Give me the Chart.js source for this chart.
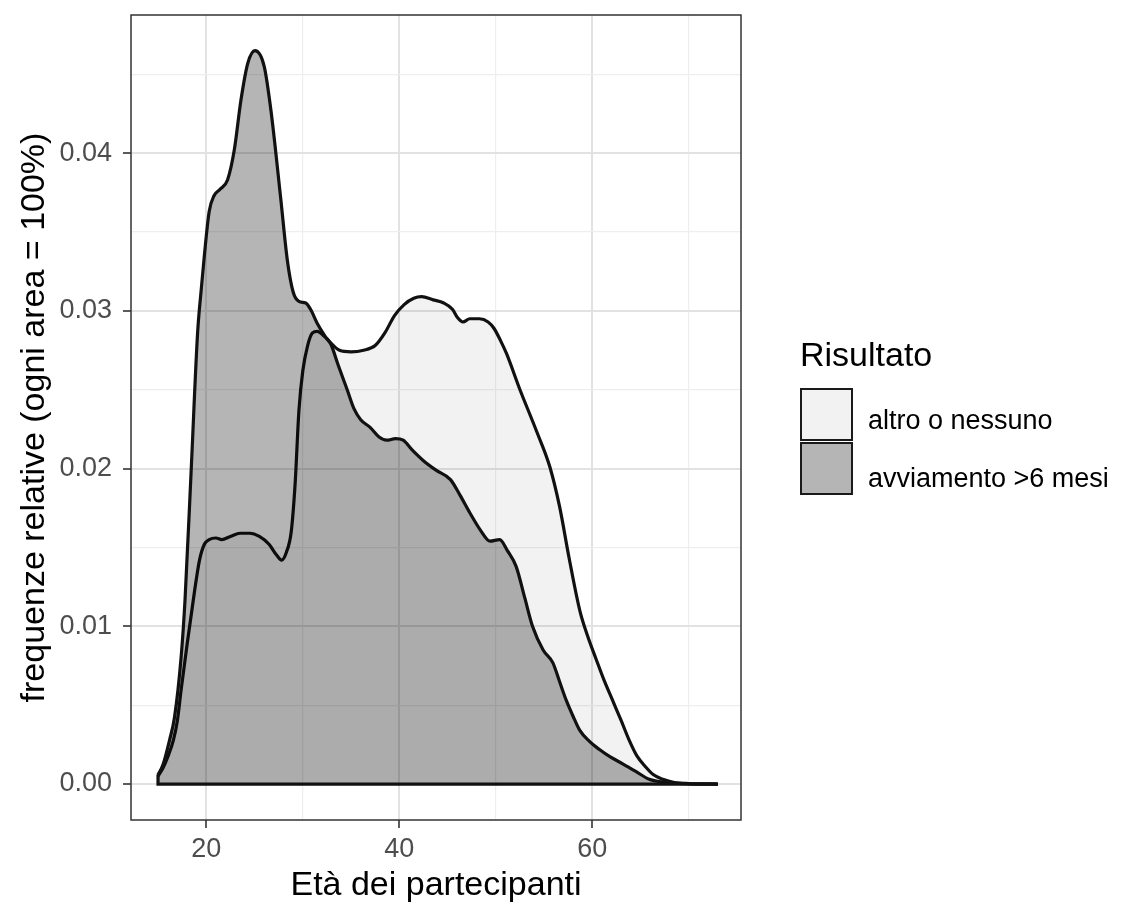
<!DOCTYPE html>
<html><head><meta charset="utf-8">
<script src="https://cdn.jsdelivr.net/npm/chart.js@4/dist/chart.umd.min.js"></script>
<style>
html,body{margin:0;padding:0;background:#fff;}
#wrap{position:relative;width:1129px;height:906px;font-family:"Liberation Sans",Arial,Helvetica,sans-serif;}
#c{position:absolute;left:0;top:0;}
.ltitle{position:absolute;left:800px;top:337px;font-size:34px;line-height:34px;color:#000;white-space:nowrap;}
.key{position:absolute;left:800px;width:53px;height:53px;box-sizing:border-box;border:2.5px solid #1a1a1a;}
.lab{position:absolute;left:868px;font-size:27px;line-height:27px;color:#000;white-space:nowrap;}
</style></head>
<body>
<div id="wrap">
  <canvas id="c" width="1129" height="906"></canvas>
  <div class="ltitle" id="legTitle"></div>
  <div class="key" style="top:388px;background:#f2f2f2;"></div>
  <div class="key" style="top:442px;background:#b5b5b5;"></div>
  <div class="lab" id="lab0" style="top:407px;"></div>
  <div class="lab" id="lab1" style="top:465px;"></div>
</div>
<script>
// ---- data ----
const seriesNames = ['altro o nessuno', 'avviamento >6 mesi'];
const legendTitle = 'Risultato';
const xTitle = 'Età dei partecipanti';
const yTitle = 'frequenze relative (ogni area = 100%)';

const ageAltro = [15, 15.5, 16, 16.6, 17, 17.4, 18, 18.8, 19.3, 19.8,
  20.3, 21, 21.6, 22.5, 23.5, 24.5, 25.5, 26.5, 27.3, 27.8,
  28.3, 28.8, 29.2, 29.6, 30, 30.5, 31, 31.5, 32.2, 33,
  33.8, 35, 36.3, 37.5, 38.5, 39.5, 40.5, 41.5, 42.3, 43.5,
  44.6, 45.5, 46, 46.6, 47.3, 48.3, 49.2, 49.8, 50.5, 51.1,
  52.5, 54.2, 55.6, 56.6, 57.6, 58.7, 59.5, 60.4, 61.2, 62.1,
  63, 63.8, 64.6, 65.5, 66.3, 67.3, 68.5, 70, 73];
const densAltro = [0.0005, 0.001, 0.0017, 0.0028, 0.004, 0.006, 0.0088, 0.0123, 0.0142, 0.0152,
  0.0155, 0.0156, 0.0155, 0.0157, 0.0159, 0.0159, 0.0157, 0.0152, 0.0145, 0.0142,
  0.0147, 0.016, 0.019, 0.0237, 0.0262, 0.0278, 0.0286, 0.0287, 0.0284, 0.0279,
  0.0275, 0.0274, 0.0275, 0.0278, 0.0286, 0.0297, 0.0304, 0.0308, 0.0309, 0.0307,
  0.0305, 0.0301, 0.0296, 0.0293, 0.0295, 0.0295, 0.0293, 0.0289, 0.0281, 0.0273,
  0.025, 0.0224, 0.0201, 0.0176, 0.0143, 0.011, 0.0094, 0.0079, 0.0066, 0.0053,
  0.004, 0.0028, 0.0018, 0.0011, 0.0006, 0.0003, 0.0001, 0.00003, 0];

const ageAvv = [15, 15.5, 16.2, 16.7, 17.4, 17.8, 18.45, 19.1, 19.5, 19.8,
  20.3, 20.8, 21.4, 22.2, 22.9, 23.6, 24.3, 25.05, 26.0, 26.7,
  27.7, 28.4, 29.0, 29.6, 30.3, 30.8, 31.5, 32.3, 32.9, 33.7,
  34.6, 35.3, 36.0, 37.0, 37.9, 38.7, 39.6, 40.4, 41.3, 42.5,
  43.8, 45.3, 46.3, 47.3, 48.4, 49.4, 50.4, 51.2, 52.1, 53.0,
  53.8, 54.9, 55.9, 56.6, 57.3, 58.0, 58.7, 59.7, 60.7, 61.9,
  63.1, 64.5, 65.9, 67.6, 70, 73];
const densAvv = [0.0006, 0.0012, 0.0028, 0.0042, 0.0081, 0.0117, 0.0201, 0.0286, 0.0315, 0.0335,
  0.0363, 0.0373, 0.0377, 0.0383, 0.0402, 0.0434, 0.0457, 0.0465, 0.0455, 0.0427,
  0.0372, 0.0332, 0.0312, 0.0306, 0.0305, 0.0301, 0.0292, 0.0284, 0.0279, 0.0265,
  0.025, 0.0238, 0.0231, 0.0226, 0.022, 0.0218, 0.0219, 0.0218, 0.0212, 0.0205,
  0.0199, 0.0193, 0.0183, 0.0172, 0.0161, 0.0154, 0.0155, 0.0148, 0.0138, 0.0118,
  0.01, 0.0085, 0.0077, 0.0065, 0.0053, 0.0043, 0.0034, 0.0027, 0.0022, 0.0017,
  0.0013, 0.0008, 0.0003, 0.0001, 0.00002, 0];

const xTicks = [20, 40, 60];
const yTicks = [0, 0.01, 0.02, 0.03, 0.04];

// ---- legend text ----
document.getElementById('legTitle').textContent = legendTitle;
document.getElementById('lab0').textContent = seriesNames[0];
document.getElementById('lab1').textContent = seriesNames[1];

const X_MIN = 12.2, X_MAX = 75.4, Y_MIN = -0.00228, Y_MAX = 0.04876;
const FONT = '"Liberation Sans", Arial, Helvetica, sans-serif';

function gridValues(majors, lo, hi) {
  const half = (majors[1] - majors[0]) / 2;
  const out = [];
  for (let k = -2; k < 400; k++) {
    const v = +(majors[0] + k * half).toFixed(6);
    if (v > hi) break;
    if (v >= lo) out.push(v);
  }
  return out;
}
function isMajor(v, majors) { return majors.some(m => Math.abs(m - v) < 1e-9); }

const pts = (xs, ys) => xs.map((x, i) => ({x: x, y: ys[i]}));
const lastAge = Math.max(ageAltro[ageAltro.length - 1], ageAvv[ageAvv.length - 1]);

const borderPlugin = {
  id: 'panelBorder',
  afterDatasetsDraw(chart) {
    const {ctx, chartArea: a} = chart;
    ctx.save();
    ctx.strokeStyle = '#333333';
    ctx.lineWidth = 1.5;
    ctx.strokeRect(a.left, a.top, a.right - a.left, a.bottom - a.top);
    ctx.restore();
  }
};

function gridOpts(majors) {
  return {
    color: c => isMajor(c.tick.value, majors) ? '#e2e2e2' : '#eeeeee',
    lineWidth: c => isMajor(c.tick.value, majors) ? 2 : 1.2,
    tickColor: c => isMajor(c.tick.value, majors) ? '#333333' : 'rgba(0,0,0,0)',
    tickLength: 8,
    tickWidth: 1.6,
    drawTicks: true
  };
}

new Chart(document.getElementById('c'), {
  type: 'line',
  data: {
    datasets: [
      {
        label: 'baseline',
        data: [{x: ageAvv[0], y: densAvv[0]}, {x: ageAvv[0], y: 0}, {x: lastAge, y: 0}],
        borderColor: '#111111', borderWidth: 3.2, pointRadius: 0, fill: false, tension: 0
      },
      {
        label: seriesNames[1],
        data: pts(ageAvv, densAvv),
        borderColor: '#111111', borderWidth: 3.2, pointRadius: 0,
        backgroundColor: 'rgba(0,0,0,0.29)', fill: 'origin',
        cubicInterpolationMode: 'monotone', borderJoinStyle: 'round'
      },
      {
        label: seriesNames[0],
        data: pts(ageAltro, densAltro),
        borderColor: '#111111', borderWidth: 3.2, pointRadius: 0,
        backgroundColor: 'rgba(0,0,0,0.05)', fill: 'origin',
        cubicInterpolationMode: 'monotone', borderJoinStyle: 'round'
      }
    ]
  },
  options: {
    responsive: false,
    animation: false,
    devicePixelRatio: 1,
    layout: {padding: {left: 0, top: 15, right: 388, bottom: 0}},
    plugins: {legend: {display: false}, tooltip: {enabled: false}},
    scales: {
      x: {
        type: 'linear', min: X_MIN, max: X_MAX,
        afterBuildTicks: s => { s.ticks = gridValues(xTicks, X_MIN, X_MAX).map(v => ({value: v})); },
        afterFit: s => { s.height = 86; s.paddingLeft = 0; s.paddingRight = 0; },
        grid: gridOpts(xTicks),
        border: {display: false},
        ticks: {
          autoSkip: false, maxRotation: 0, padding: 5, color: '#4d4d4d',
          font: {family: FONT, size: 27},
          callback: v => isMajor(v, xTicks) ? String(v) : ''
        },
        title: {display: true, text: xTitle, color: '#000', font: {family: FONT, size: 34}, padding: {top: 0, bottom: 0}}
      },
      y: {
        type: 'linear', min: Y_MIN, max: Y_MAX,
        afterBuildTicks: s => { s.ticks = gridValues(yTicks, Y_MIN, Y_MAX).map(v => ({value: v})); },
        afterFit: s => { s.width = 131; s.paddingTop = 0; s.paddingBottom = 0; },
        grid: gridOpts(yTicks),
        border: {display: false},
        ticks: {
          autoSkip: false, padding: 11, color: '#4d4d4d',
          font: {family: FONT, size: 27},
          callback: v => isMajor(v, yTicks) ? v.toFixed(2) : ''
        },
        title: {display: true, text: yTitle, color: '#000', font: {family: FONT, size: 34}, padding: {top: 14, bottom: 0}}
      }
    }
  },
  plugins: [borderPlugin]
});
</script>
</body></html>
